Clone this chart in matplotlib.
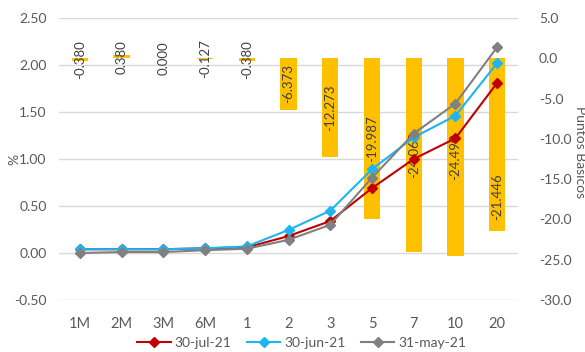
import numpy as np
import matplotlib.pyplot as plt

plt.rcParams['font.family'] = ['Lato', 'DejaVu Sans']

plazos = ['1M', '2M', '3M', '6M', '1', '2', '3', '5', '7', '10', '20']

# tasas en %
jul21 = [0.04, 0.04, 0.04, 0.05, 0.06, 0.18, 0.34, 0.69, 1.00, 1.22, 1.81]
jun21 = [0.04, 0.04, 0.04, 0.05, 0.07, 0.245, 0.45, 0.89, 1.23, 1.46, 2.02]
may21 = [0.00, 0.01, 0.01, 0.03, 0.045, 0.14, 0.30, 0.80, 1.27, 1.59, 2.19]

# variacion en puntos basicos
var_pb = [-0.380, 0.380, 0.000, -0.127, -0.380, -6.373, -12.273,
          -19.987, -24.062, -24.490, -21.446]

gris = '#595959'
x = np.arange(len(plazos))

fig = plt.figure(figsize=(5.85, 3.52), dpi=100)
ax = fig.add_axes([59 / 585, 1 - 300 / 352, 459 / 585, 282 / 352])
ax_b = ax.twinx()
ax_l = ax.twinx()

# eje % (grilla)
ax.set_ylim(-0.5, 2.5)
ax.set_yticks(np.arange(-0.5, 2.51, 0.5))
ax.set_yticklabels([f'{v:.2f}' for v in np.arange(-0.5, 2.51, 0.5)])
ax.grid(axis='y', color='#D9D9D9', linewidth=1)
ax.set_axisbelow(True)
ax.set_xlim(-0.5, len(plazos) - 0.5)
ax.set_xticks(x)
ax.set_xticklabels(plazos)
ax.set_ylabel('%', color=gris, fontsize=10)
ax.yaxis.set_label_coords(-0.085, 0.5)
ax.tick_params(axis='y', length=0, pad=9, labelsize=10, labelcolor=gris)
ax.tick_params(axis='x', length=0, pad=12, labelsize=10.5, labelcolor=gris)

# barras (pb)
ax_b.bar(x, var_pb, width=0.39, color='#FFC000', zorder=2)
ax_b.set_ylim(-30, 5)
ax_b.set_yticks(np.arange(-30, 5.1, 5))
ax_b.set_yticklabels([f'{v:.1f}' for v in np.arange(-30, 5.1, 5)])
ax_b.tick_params(axis='y', length=0, pad=15, labelsize=10, labelcolor=gris)
fig.text(580 / 585, 1 - 152 / 352, 'Puntos Basicos', color=gris, fontsize=10,
         rotation=270, ha='center', va='center')
for i, v in enumerate(var_pb):
    ypos = v * 0.8 if i == len(var_pb) - 1 else v / 2
    ax_b.text(i, ypos, f'{v:.3f}', rotation=90, ha='center', va='center',
              fontsize=9.5, color='#404040')

# curvas (%)
ax_l.set_ylim(ax.get_ylim())
ax_l.set_yticks([])
ax_l.plot(x, jul21, color='#C00000', marker='D', markersize=5, linewidth=1.5, label='30-jul-21')
ax_l.plot(x, jun21, color='#1CB5F0', marker='D', markersize=5, linewidth=1.5, label='30-jun-21')
ax_l.plot(x, may21, color='#808080', marker='D', markersize=5, linewidth=1.5, label='31-may-21')

for a in (ax, ax_b, ax_l):
    for s in a.spines.values():
        s.set_visible(False)

leg = ax_l.legend(loc='center', bbox_to_anchor=(302 / 585, 1 - 343 / 352),
                  bbox_transform=fig.transFigure, ncol=3, frameon=False,
                  fontsize=10, handlelength=2.4, columnspacing=1.1,
                  handletextpad=0.3)
for t in leg.get_texts():
    t.set_color(gris)

fig.savefig('out.png', dpi=100)
